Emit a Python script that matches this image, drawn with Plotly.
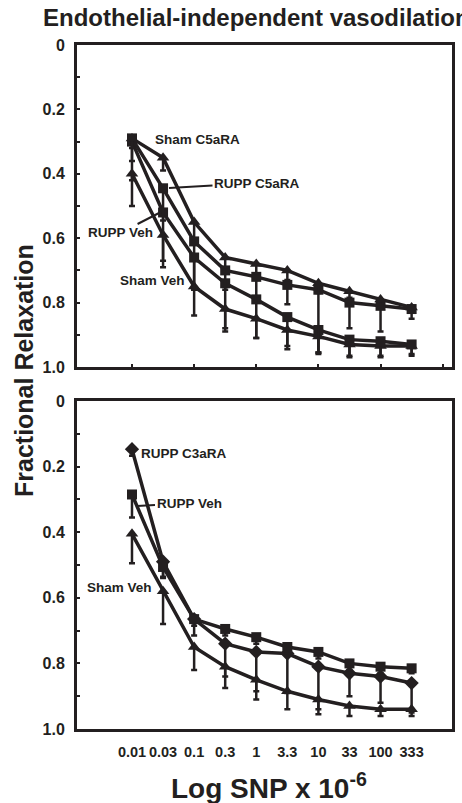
import plotly.graph_objects as go

# ---------------- data ----------------
dose_labels = ["0.01", "0.03", "0.1", "0.3", "1", "3.3", "10", "33", "100", "333"]
dose_idx = list(range(len(dose_labels)))

# Top panel (C5aRA)
sham_c5ara = [0.29, 0.35, 0.55, 0.66, 0.68, 0.70, 0.74, 0.765, 0.79, 0.815]
sham_c5ara_err = [0.03, 0.04, 0.05, 0.03, 0.03, 0.03, 0.03, 0.02, 0.02, 0.01]
rupp_c5ara = [0.29, 0.445, 0.61, 0.70, 0.72, 0.745, 0.76, 0.80, 0.81, 0.82]
rupp_c5ara_err = [0.07, 0.10, 0.15, 0.06, 0.06, 0.06, 0.20, 0.08, 0.08, 0.03]
rupp_veh_top = [0.30, 0.52, 0.66, 0.74, 0.79, 0.845, 0.885, 0.915, 0.92, 0.93]
rupp_veh_top_err = [0.12, 0.15, 0.10, 0.14, 0.12, 0.09, 0.07, 0.05, 0.05, 0.03]
sham_veh_top = [0.40, 0.59, 0.75, 0.82, 0.85, 0.885, 0.905, 0.93, 0.935, 0.935]
sham_veh_top_err = [0.10, 0.10, 0.09, 0.07, 0.06, 0.06, 0.05, 0.04, 0.03, 0.03]

# Bottom panel (C3aRA)
rupp_c3ara = [0.147, 0.49, 0.665, 0.74, 0.765, 0.77, 0.81, 0.83, 0.84, 0.86]
rupp_c3ara_err = [0.02, 0.05, 0.05, 0.10, 0.12, 0.12, 0.13, 0.07, 0.08, 0.09]
rupp_veh_bot = [0.285, 0.506, 0.665, 0.695, 0.72, 0.75, 0.765, 0.80, 0.81, 0.815]
rupp_veh_bot_err = [0.07, 0.03, 0.02, 0.02, 0.02, 0.02, 0.02, 0.02, 0.02, 0.015]
sham_veh_bot = [0.405, 0.58, 0.75, 0.81, 0.85, 0.885, 0.91, 0.93, 0.94, 0.94]
sham_veh_bot_err = [0.09, 0.10, 0.07, 0.065, 0.06, 0.055, 0.045, 0.03, 0.02, 0.02]

y_tick_vals = [0, 0.2, 0.4, 0.6, 0.8, 1.0]
y_tick_text = ["0", "0.2", "0.4", "0.6", "0.8", "1.0"]

# ---------------- style ----------------
INK = "#231f20"
FONT = "Arial, Liberation Sans, sans-serif"
W, H = 462, 803

def px_x(p):
    return p / W

def px_y(p):
    return 1 - p / H

def series(x, y, err, symbol, size, xa, ya):
    return go.Scatter(
        x=x, y=y, mode="lines+markers", xaxis=xa, yaxis=ya,
        line=dict(color=INK, width=3.5),
        marker=dict(symbol=symbol, size=size, color=INK),
        error_y=dict(type="data", symmetric=False, array=err,
                     arrayminus=[0] * len(err), color=INK,
                     thickness=2.5, width=3),
        showlegend=False, cliponaxis=False,
    )

fig = go.Figure()
# top
fig.add_trace(series(dose_idx, sham_veh_top, sham_veh_top_err, "triangle-up", 11, "x", "y"))
fig.add_trace(series(dose_idx, rupp_veh_top, rupp_veh_top_err, "square", 10, "x", "y"))
fig.add_trace(series(dose_idx, rupp_c5ara, rupp_c5ara_err, "square", 10, "x", "y"))
fig.add_trace(series(dose_idx, sham_c5ara, sham_c5ara_err, "triangle-up", 11, "x", "y"))
# bottom
fig.add_trace(series(dose_idx, sham_veh_bot, sham_veh_bot_err, "triangle-up", 11, "x2", "y2"))
fig.add_trace(series(dose_idx, rupp_c3ara, rupp_c3ara_err, "diamond", 11, "x2", "y2"))
fig.add_trace(series(dose_idx, rupp_veh_bot, rupp_veh_bot_err, "square", 10, "x2", "y2"))

x_range = [-1.77, 10.3]
x_dom = [px_x(77), px_x(452)]
tickfont = dict(family=FONT, size=16, color=INK, weight="bold")

common_x = dict(domain=x_dom, range=x_range, showline=True, mirror=True,
                linewidth=3, linecolor=INK, showgrid=False, zeroline=False,
                automargin=False)
common_y = dict(range=[1.0, 0], showline=True, mirror=True, linewidth=3,
                linecolor=INK, showgrid=False, zeroline=False, automargin=False,
                tickmode="array", tickvals=y_tick_vals, ticktext=y_tick_text,
                ticks="inside", ticklen=3, tickwidth=1.5, tickcolor=INK,
                minor=dict(tickmode="linear", tick0=0, dtick=0.1, ticks="inside",
                           ticklen=3, tickwidth=1.5, tickcolor=INK),
                tickfont=tickfont, ticklabelstandoff=6)

fig.update_layout(
    width=W, height=H, margin=dict(l=0, r=0, t=0, b=0, autoexpand=False),
    paper_bgcolor="white", plot_bgcolor="white",
    xaxis=dict(**common_x, anchor="y", tickmode="array", tickvals=[0, 2, 4, 6, 8, 10],
               ticks="inside", ticklen=3, tickwidth=1.5, tickcolor=INK,
               showticklabels=False),
    yaxis=dict(**common_y, domain=[px_y(367), px_y(45)], anchor="x"),
    xaxis2=dict(**common_x, anchor="y2", tickmode="array", tickvals=dose_idx,
                ticktext=dose_labels, ticks="", ticklabelstandoff=8, tickangle=0,
                tickfont=dict(family=FONT, size=14.5, color=INK, weight="bold")),
    xaxis3=dict(domain=x_dom, range=x_range, overlaying="x2", anchor="y2", side="bottom",
                tickmode="array", tickvals=[0, 2, 4, 6, 8, 10], ticks="inside",
                ticklen=3, tickwidth=1.5, tickcolor=INK, showticklabels=False,
                showline=False, showgrid=False, zeroline=False, automargin=False),
    yaxis2=dict(**common_y, domain=[px_y(729), px_y(401)], anchor="x2"),
)

ann_font = dict(family=FONT, size=13.5, color=INK, weight="bold")
annotations = [
    # title
    dict(text="Endothelial-independent vasodilation", xref="paper", yref="paper",
         x=px_x(41), y=px_y(18), xanchor="left", yanchor="middle", showarrow=False,
         font=dict(family=FONT, size=24, color=INK, weight="bold")),
    # y title
    dict(text="Fractional Relaxation", xref="paper", yref="paper",
         x=px_x(24), y=px_y(371), xanchor="center", yanchor="middle", showarrow=False,
         textangle=-90, font=dict(family=FONT, size=25, color=INK, weight="bold")),
    # x title
    dict(text="Log SNP x 10<sup>-6</sup>", xref="paper", yref="paper",
         x=px_x(269), y=px_y(786), xanchor="center", yanchor="middle", showarrow=False,
         font=dict(family=FONT, size=28, color=INK, weight="bold")),
    # top panel labels
    dict(text="Sham C5aRA", xref="paper", yref="paper", x=px_x(153), y=px_y(139),
         xanchor="left", yanchor="middle", showarrow=False, font=ann_font),
    dict(text="RUPP C5aRA", xref="paper", yref="paper", x=px_x(169), y=px_y(188),
         ax=88, ay=-5, showarrow=True, arrowhead=0, arrowwidth=2, arrowcolor=INK,
         font=ann_font),
    dict(text="RUPP Veh", xref="paper", yref="paper", x=px_x(161), y=px_y(212),
         ax=-41, ay=21, showarrow=True, arrowhead=0, arrowwidth=2, arrowcolor=INK,
         font=ann_font),
    dict(text="Sham Veh", xref="paper", yref="paper", x=px_x(118), y=px_y(280),
         xanchor="left", yanchor="middle", showarrow=False, font=ann_font),
    # bottom panel labels
    dict(text="RUPP C3aRA", xref="paper", yref="paper", x=px_x(139), y=px_y(453),
         xanchor="left", yanchor="middle", showarrow=False, font=ann_font),
    dict(text="RUPP Veh", xref="paper", yref="paper", x=px_x(137), y=px_y(506),
         ax=52, ay=-3, showarrow=True, arrowhead=0, arrowwidth=2, arrowcolor=INK,
         font=ann_font),
    dict(text="Sham Veh", xref="paper", yref="paper", x=px_x(85), y=px_y(587),
         xanchor="left", yanchor="middle", showarrow=False, font=ann_font),
]
fig.update_layout(annotations=annotations)

fig.write_html(
    "out.html",
    config={"displayModeBar": False},
    post_script="document.body.style.margin='0';document.body.style.padding='0';"
                "document.body.style.overflow='hidden';",
)
